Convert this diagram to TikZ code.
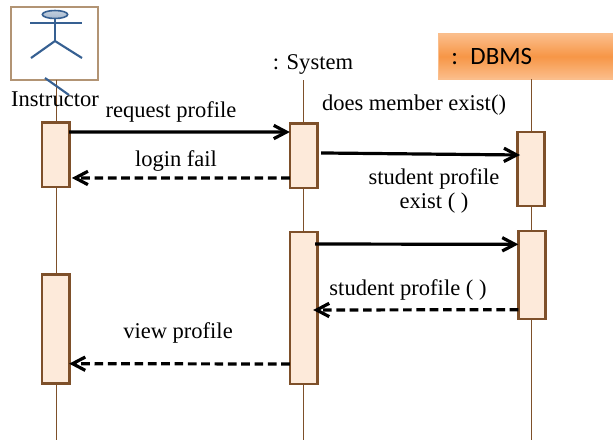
\documentclass[tikz,border=0pt]{standalone}
\usepackage{fontspec}
\setmainfont{Liberation Serif}
\newfontfamily\dbmsfont{Carlito}
\usepackage{xcolor}
\usetikzlibrary{positioning,arrows.meta,shapes.geometric}
\definecolor{barfill}{RGB}{253,234,218}
\definecolor{barline}{RGB}{126,80,42}
\definecolor{stickblue}{RGB}{54,96,146}
\begin{document}
\begin{tikzpicture}[x=0.75pt, y=-0.75pt, inner sep=0pt, outer sep=0pt,
	bar/.style={draw=barline, line width=2pt, fill=barfill, minimum width=20.5pt},
	lifeline/.style={draw=barline, line width=0.6pt},
	stick/.style={draw=stickblue, line width=1.6pt},
	call/.style={draw=black, line width=2.4pt, -{Straight Barb[length=9.5pt, width=10pt, line width=2.4pt]}},
	reply/.style={call, dashed, dash pattern=on 6.5pt off 3.5pt},
	lbl/.style={font=\fontsize{16.9}{17.5}\selectfont, align=center}]
	\useasboundingbox (0,0) rectangle (613,440);

	\node (instructor) at (54.5,43.5) [draw={rgb,255:red,178;green,148;blue,116}, line width=1.1pt, minimum width=65pt, minimum height=54.5pt] {};
	\node (system) at (313,64) [lbl] {: System};
	\node (dbms) at (530,56.5) [draw={rgb,255:red,250;green,190;blue,140}, line width=1.2pt, top color={rgb,255:red,251;green,190;blue,140}, bottom color={rgb,255:red,251;green,190;blue,140}, middle color={rgb,255:red,247;green,150;blue,70}, minimum width=137pt, minimum height=34pt, text width=118pt, font=\dbmsfont\fontsize{18.7}{20}\selectfont] {: DBMS};

	\coordinate (instructorEnd) at (56,440);
	\coordinate (systemStart) at (303,80);
	\coordinate (systemEnd) at (303,440);
	\coordinate (dbmsStart) at (531,79);
	\coordinate (dbmsEnd) at (531,440);
	\draw[lifeline] (instructor.south -| instructorEnd) -- (instructorEnd);
	\draw[lifeline] (systemStart) -- (systemEnd);
	\draw[lifeline] (dbmsStart) -- (dbmsEnd);

	\node (instA) at (55.5,154.5) [bar, minimum height=48.5pt] {};
	\node (instB) at (55.5,329) [bar, minimum height=82pt] {};
	\node (sysA) at (303.5,155.5) [bar, minimum height=48.5pt] {};
	\node (sysB) at (303.5,308) [bar, minimum height=114pt] {};
	\node (dbA) at (531,169) [bar, minimum height=55.5pt] {};
	\node (dbB) at (532,275) [bar, minimum height=66pt] {};

	% actor figure
	\coordinate (hip) at (55,41);
	\coordinate (armL) at (30,23);
	\coordinate (armR) at (82,23);
	\coordinate (legL) at (31,58);
	\coordinate (legR) at (82,58);
	\coordinate (slashA) at (45,78);
	\coordinate (slashB) at (69,95);
	\node (head) at (55,14.5) [draw=stickblue, line width=1.2pt, ellipse, top color=white!70!stickblue, bottom color=white!55!stickblue, minimum width=19pt, minimum height=6pt] {};
	\draw[stick] (head.south) -- (hip);
	\draw[stick] (armL) -- (armR);
	\draw[stick] (legL) -- (hip) -- (legR);
	\draw[stick] (slashA) -- (slashB);

	\node (instructorLbl) at (55,99.5) [lbl] {Instructor};
	\node (requestLbl) at (171,112) [lbl] {request profile};
	\node (loginLbl) at (176,161) [lbl] {login fail};
	\node (memberLbl) at (414,105) [lbl] {does member exist()};
	\node (existLbl) at (434,191) [lbl] {student profile\\exist ( )};
	\node (profileLbl) at (408,290) [lbl] {student profile ( )};
	\node (viewLbl) at (178,333) [lbl] {view profile};

	\draw[call] ([yshift=16.9pt]instA.east) -- ([yshift=17.6pt]sysA.west);
	\draw[reply] ([yshift=-16.9pt]sysA.west) -- ([xshift=2pt,yshift=-17.6pt]instA.east);
	\draw[call] ([xshift=3pt,yshift=1.9pt]sysA.east) -- ([xshift=2pt,yshift=10.5pt]dbA.west);
	\draw[call] ([xshift=-1.5pt,yshift=48pt]sysB.east) -- ([yshift=23pt]dbB.west);
	\draw[reply] ([yshift=-26pt]dbB.west) -- ([xshift=-3pt,yshift=-1.5pt]sysB.east);
	\draw[reply] ([yshift=-42pt]sysB.west) -- ([yshift=-26pt]instB.east);
\end{tikzpicture}
\end{document}
